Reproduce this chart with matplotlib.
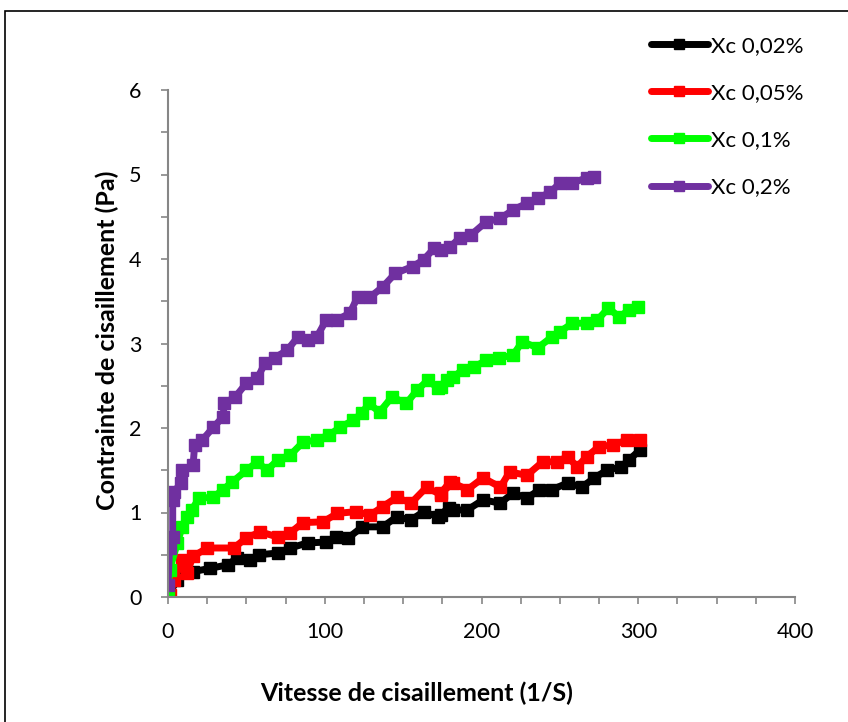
import matplotlib
matplotlib.use("Agg")
import matplotlib.pyplot as plt
from matplotlib.patches import Rectangle
from matplotlib.ticker import MultipleLocator, FormatStrFormatter

plt.rcParams['font.family'] = ['Lato', 'DejaVu Sans']

labels = ["Xc 0,02%", "Xc 0,05%", "Xc 0,1%", "Xc 0,2%"]
colors = ["#000000", "#ff0000", "#00ff00", "#7030a0"]

x_002 = [0, 6, 10, 16, 27, 38, 44, 52, 58, 70, 78, 89, 101, 107, 115, 124, 137, 146, 155, 163, 172, 179,
         174, 182, 191, 201, 212, 220, 229, 237, 245, 255, 264, 272, 280, 289, 294, 301]
y_002 = [0.02, 0.20, 0.30, 0.30, 0.34, 0.38, 0.46, 0.44, 0.50, 0.52, 0.58, 0.64, 0.65, 0.71, 0.70, 0.83, 0.83, 0.95, 0.91, 1.01, 0.95, 1.05,
         0.97, 1.03, 1.03, 1.15, 1.11, 1.23, 1.17, 1.27, 1.27, 1.35, 1.30, 1.41, 1.50, 1.54, 1.62, 1.74]

x_005 = [1, 4, 9, 12, 16, 25, 42, 50, 59, 70, 78, 86, 99, 108, 120, 129, 137, 146, 155, 165, 174, 180,
         174, 182, 191, 201, 212, 218, 229, 239, 248, 255, 261, 267, 275, 284, 293, 301]
y_005 = [0.02, 0.20, 0.44, 0.28, 0.48, 0.58, 0.58, 0.70, 0.77, 0.71, 0.76, 0.88, 0.89, 0.99, 1.01, 0.97, 1.07, 1.18, 1.11, 1.30, 1.21, 1.36,
         1.23, 1.35, 1.27, 1.41, 1.30, 1.48, 1.44, 1.60, 1.60, 1.66, 1.54, 1.66, 1.78, 1.80, 1.86, 1.86]

x_01 = [0, 1, 6, 9, 12, 15, 20, 29, 35, 41, 50, 57, 63, 70, 78, 86, 95, 103, 110, 118, 124, 128, 135, 143, 152, 159, 166, 172, 178,
        174, 182, 188, 195, 203, 211, 220, 226, 236, 245, 250, 258, 267, 274, 281, 288, 294, 300]
y_01 = [0.02, 0.32, 0.64, 0.83, 0.95, 1.03, 1.17, 1.18, 1.27, 1.36, 1.50, 1.60, 1.50, 1.62, 1.68, 1.83, 1.86, 1.92, 2.01, 2.09, 2.18, 2.29, 2.19, 2.37, 2.29, 2.45, 2.57, 2.47, 2.57,
        2.49, 2.60, 2.69, 2.72, 2.80, 2.83, 2.86, 3.02, 2.95, 3.08, 3.14, 3.24, 3.24, 3.28, 3.42, 3.31, 3.40, 3.43]

x_02 = [0, 1, 3, 3, 4, 8, 9, 16, 17, 22, 29, 35, 36, 43, 50, 57, 62, 68, 76, 83, 89, 95, 101, 108, 116, 121, 129, 137, 145, 156, 163, 170,
        174, 180, 186, 193, 203, 212, 220, 229, 236, 244, 250, 258, 267, 272]
y_02 = [0.14, 0.58, 0.71, 1.15, 1.24, 1.35, 1.50, 1.56, 1.80, 1.86, 2.01, 2.13, 2.29, 2.37, 2.53, 2.59, 2.77, 2.83, 2.92, 3.08, 3.04, 3.08, 3.28, 3.28, 3.36, 3.55, 3.55, 3.67, 3.83, 3.91, 3.99, 4.13,
        4.11, 4.14, 4.25, 4.28, 4.44, 4.48, 4.58, 4.66, 4.72, 4.79, 4.90, 4.90, 4.96, 4.97]

series = [(x_002, y_002), (x_005, y_005), (x_01, y_01), (x_02, y_02)]

W, H = 848, 722
fig = plt.figure(figsize=(W / 100, H / 100), dpi=100)
ax = fig.add_axes([168 / W, 1 - 597 / H, (795 - 168) / W, (597 - 90) / H])

for (xs, ys), c, lab in zip(series, colors, labels):
    ax.plot(xs, ys, color=c, lw=5, marker='s', markersize=9, markeredgecolor=c,
            markerfacecolor=c, label=lab, solid_joinstyle='round', solid_capstyle='round')

ax.set_xlim(0, 400)
ax.set_ylim(0, 6)
ax.xaxis.set_major_locator(MultipleLocator(100))
ax.xaxis.set_minor_locator(MultipleLocator(25))
ax.yaxis.set_major_locator(MultipleLocator(1))
ax.yaxis.set_minor_locator(MultipleLocator(0.5))
ax.xaxis.set_major_formatter(FormatStrFormatter('%g'))
ax.yaxis.set_major_formatter(FormatStrFormatter('%g'))

gray = "#868686"
for s in ['top', 'right']:
    ax.spines[s].set_visible(False)
for s in ['left', 'bottom']:
    ax.spines[s].set_color(gray)
    ax.spines[s].set_linewidth(1.5)
ax.tick_params(axis='both', which='both', direction='out', color=gray, width=1.2, length=5,
               labelsize=15.5, labelcolor='black')
ax.tick_params(axis='x', which='major', pad=13)
ax.tick_params(axis='y', which='major', pad=14)

fig.text(107 / W, 1 - 340 / H, "Contrainte de cisaillement (Pa)", fontsize=18, fontweight='bold',
         ha='center', va='center', rotation=90)
fig.text(417 / W, 1 - 693 / H, "Vitesse de cisaillement (1/S)", fontsize=18, fontweight='bold',
         ha='center', va='center')

leg = fig.legend(loc='upper left', bbox_to_anchor=(631 / W, 1 - 16 / H), frameon=False,
                 fontsize=16, handlelength=2.55, handletextpad=0.15, labelspacing=1.22,
                 markerscale=0.75)

fig.patches.append(Rectangle((5 / W, -0.05), 1.0, 1 - 11 / H + 0.05, transform=fig.transFigure,
                             fill=False, edgecolor='black', linewidth=1.2))

fig.savefig("out.png", dpi=100)
